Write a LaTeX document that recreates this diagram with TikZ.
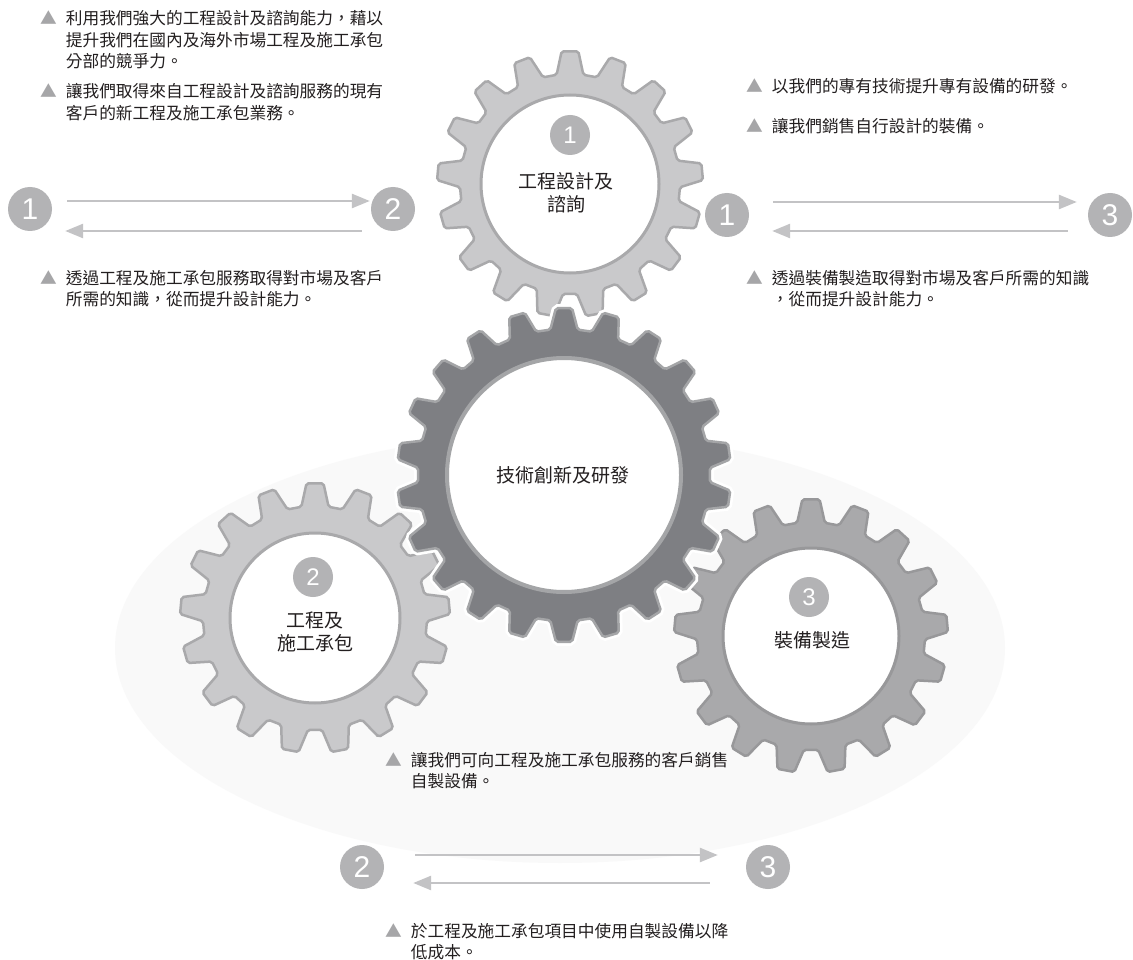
\documentclass[tikz,border=0pt]{standalone}
\usepackage{fontspec}
\setmainfont{Noto Sans CJK TC}
\newfontfamily\numf{Liberation Sans}
\usetikzlibrary{arrows.meta}
\definecolor{txt}{HTML}{231F20}
\definecolor{badgecol}{HTML}{B3B3B5}
\definecolor{arrcol}{HTML}{C3C3C5}
\definecolor{tricol}{HTML}{A6A6A8}
\definecolor{gA}{HTML}{C9C9CB}
\definecolor{gAline}{HTML}{A9A9AB}
\definecolor{gC}{HTML}{A9A9AB}
\definecolor{gCline}{HTML}{98989A}
\definecolor{gM}{HTML}{7E7F83}
\definecolor{gMline}{HTML}{A4A5A7}
\definecolor{bgblob}{HTML}{F9F9F9}
\newcommand{\mygear}[6]{%
  \pgfmathsetmacro{\gp}{360/#2}%
  \pgfmathtruncatemacro{\gn}{#2-2}%
  \pgfmathtruncatemacro{\gl}{#2-1}%
  \begin{scope}[shift={#1}]
    \path[#6] (#5-0.33*\gp:#3)
      \foreach \k in {0,...,\gn}{
        -- (#5+\k*\gp-0.17*\gp:#4) -- (#5+\k*\gp+0.17*\gp:#4)
        -- (#5+\k*\gp+0.33*\gp:#3) -- (#5+\k*\gp+0.67*\gp:#3)}
      -- (#5+\gl*\gp-0.17*\gp:#4) -- (#5+\gl*\gp+0.17*\gp:#4)
      -- (#5+\gl*\gp+0.33*\gp:#3) -- cycle;
  \end{scope}}
\newcommand{\tri}{{\color{tricol}▲}}
\tikzset{
  badge/.style={circle,fill=badgecol,text=white,inner sep=0pt,minimum size=44pt,font=\numf\fontsize{30}{30}\selectfont},
  sbadge/.style={circle,fill=badgecol,text=white,inner sep=0pt,minimum size=40pt,font=\numf\fontsize{24}{24}\selectfont},
  arr/.style={draw=arrcol,line width=2.6pt,-{Triangle[length=18pt,width=14pt]}},
  bul/.style={anchor=base west,inner sep=0pt,text=txt,font=\fontsize{16.7}{21.5}\selectfont},
  glabel/.style={align=center,text=txt,inner sep=0pt,font=\fontsize{19}{23}\selectfont},
  hole/.style={circle,fill=white,inner sep=0pt},
  gearA/.style={fill=gA,draw=gAline,line width=2.5pt,rounded corners=2pt},
  gearC/.style={fill=gC,draw=gCline,line width=2.5pt,rounded corners=2pt},
  gearM/.style={fill=gM,draw=gMline,line width=2.5pt,rounded corners=2pt,preaction={draw=white,line width=8pt}},
}
\begin{document}
\begin{tikzpicture}[x=1pt,y=-1pt]
\useasboundingbox[fill=white] (0,0) rectangle (1133,960);
% faint background blob
\fill[bgblob] (560,648) ellipse [x radius=445, y radius=215];
% gears
\mygear{(570,184)}{17}{110}{133}{270}{gearA}
\mygear{(315,618)}{17}{112}{135}{270}{gearA}
\mygear{(811,636)}{17}{114}{137}{270}{gearC}
\mygear{(564,475)}{22}{146}{167}{270}{gearM}
\node[hole,draw=gAline,line width=3pt,minimum size=178pt] (h1) at (570,184) {};
\node[hole,draw=gAline,line width=3pt,minimum size=170pt] (h2) at (315,618) {};
\node[hole,draw=gCline,line width=3pt,minimum size=176pt] (h3) at (811,636) {};
\node[hole,draw=gMline,line width=4pt,minimum size=234pt] (hm) at (564,475) {};
% gear labels
\node[sbadge] (s1) at (570,135) {1};
\node[glabel] (l1) at (566,193) {工程設計及\\諮詢};
\node[sbadge] (s2) at (313,577) {2};
\node[glabel] (l2) at (315,632) {工程及\\施工承包};
\node[sbadge] (s3) at (809,597) {3};
\node[glabel] (l3) at (812,640) {裝備製造};
\node[glabel] (lm) at (563,475) {技術創新及研發};
% top-left exchange 1 <-> 2
\node[badge] (a1) at (30,209) {1};
\node[badge] (a2) at (393,209) {2};
\draw[arr] ([xshift=15pt,yshift=8pt]a1.east) -- ([xshift=-1pt,yshift=8pt]a2.west);
\draw[arr] ([xshift=-9pt,yshift=-22pt]a2.west) -- ([xshift=13pt,yshift=-22pt]a1.east);
% top-right exchange 1 <-> 3
\node[badge] (b1) at (727,215) {1};
\node[badge] (b3) at (1110,215) {3};
\draw[arr] ([xshift=24pt,yshift=13pt]b1.east) -- ([xshift=-11pt,yshift=13pt]b3.west);
\draw[arr] ([xshift=-20pt,yshift=-16pt]b3.west) -- ([xshift=23pt,yshift=-16pt]b1.east);
% bottom exchange 2 <-> 3
\node[badge] (c2) at (362,867) {2};
\node[badge] (c3) at (768,867) {3};
\draw[arr] ([xshift=31pt,yshift=12pt]c2.east) -- ([xshift=-28pt,yshift=12pt]c3.west);
\draw[arr] ([xshift=-36pt,yshift=-16pt]c3.west) -- ([xshift=29pt,yshift=-16pt]c2.east);
% bullet texts
\node[bul] (t1) at (40,25) {\begin{tabular}[t]{@{}l@{\hspace{9pt}}l@{}}\tri & 利用我們強大的工程設計及諮詢能力，藉以\\ & 提升我們在國內及海外市場工程及施工承包\\ & 分部的競爭力。\end{tabular}};
\node[bul] (t2) at (40,98) {\begin{tabular}[t]{@{}l@{\hspace{9pt}}l@{}}\tri & 讓我們取得來自工程設計及諮詢服務的現有\\ & 客戶的新工程及施工承包業務。\end{tabular}};
\node[bul] (t3) at (746,93) {\begin{tabular}[t]{@{}l@{\hspace{9pt}}l@{}}\tri & 以我們的專有技術提升專有設備的研發。\end{tabular}};
\node[bul] (t4) at (746,133) {\begin{tabular}[t]{@{}l@{\hspace{9pt}}l@{}}\tri & 讓我們銷售自行設計的裝備。\end{tabular}};
\node[bul] (t5) at (40,284) {\begin{tabular}[t]{@{}l@{\hspace{9pt}}l@{}}\tri & 透過工程及施工承包服務取得對市場及客戶\\ & 所需的知識，從而提升設計能力。\end{tabular}};
\node[bul] (t6) at (746,284) {\begin{tabular}[t]{@{}l@{\hspace{9pt}}l@{}}\tri & 透過裝備製造取得對市場及客戶所需的知識\\ & ，從而提升設計能力。\end{tabular}};
\node[bul] (t7) at (385,766) {\begin{tabular}[t]{@{}l@{\hspace{9pt}}l@{}}\tri & 讓我們可向工程及施工承包服務的客戶銷售\\ & 自製設備。\end{tabular}};
\node[bul] (t8) at (385,937) {\begin{tabular}[t]{@{}l@{\hspace{9pt}}l@{}}\tri & 於工程及施工承包項目中使用自製設備以降\\ & 低成本。\end{tabular}};
\end{tikzpicture}
\end{document}
